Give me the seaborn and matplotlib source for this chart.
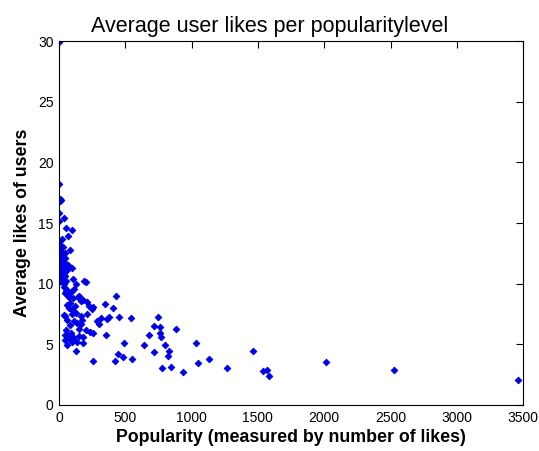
import matplotlib
matplotlib.use("Agg")
import matplotlib.pyplot as plt
import seaborn as sns
import pandas as pd

# Popularity (number of likes) and the average likes of the users at that level
popularity = [
    0, 3, 4, 12, 8, 2, 40, 1, 52, 98, 65, 25, 10, 5, 30, 85, 45,
    2, 8, 15, 20, 4, 28, 12, 35, 6, 18, 42, 25, 3, 50, 10, 32, 60, 14, 22, 5,
    38, 48, 9, 28, 16, 55, 3, 35, 20, 44, 7, 30, 70, 95,
    103, 126, 189, 204, 58, 45, 78, 103, 153, 163, 184, 83, 58, 121, 209, 229,
    246, 259, 347, 405, 430, 45, 96, 166, 83, 133, 163, 284, 314, 365, 380,
    455, 540, 304, 355, 234, 259, 184, 153, 138, 178, 70, 103, 63, 121, 128,
    254, 422, 447, 480, 490, 548, 641, 681, 717, 749, 762, 762, 769, 719, 799,
    825, 832, 779, 842, 882, 933, 1033, 1051, 1134, 1270, 1461, 1536, 1567,
    1582, 2014, 2530, 3465,
    40, 55, 65, 90, 110, 140, 75, 95, 130, 60, 110, 48, 75, 88, 100, 150, 200,
    175, 210, 50, 35, 58, 45,
]
avg_likes = [
    29.9, 18.2, 17.0, 16.9, 16.8, 15.8, 15.4, 15.2, 14.6, 14.4, 13.9, 13.7, 13.5, 13.2, 13.0, 12.8, 12.5,
    12.9, 12.7, 12.6, 12.4, 12.3, 12.2, 12.1, 12.0, 11.9, 11.8, 11.7, 11.6, 11.5, 11.4, 11.3, 11.2, 11.1, 11.0, 10.9, 10.8,
    10.7, 10.6, 10.5, 10.4, 10.3, 10.2, 10.1, 10.0, 11.7, 12.1, 12.5, 10.8, 11.5, 11.3,
    10.4, 10.0, 10.25, 10.1, 9.5, 9.2, 8.9, 8.8, 9.0, 8.6, 8.65, 8.4, 8.25, 8.15, 8.5, 8.15,
    7.9, 8.05, 8.3, 7.97, 8.98, 7.33, 7.5, 7.33, 6.6, 6.8, 6.7, 6.95, 7.2, 7.06, 7.28,
    7.28, 7.14, 6.68, 5.77, 6.04, 5.96, 5.58, 5.69, 5.22, 5.14, 5.63, 5.63, 4.95, 5.36, 4.48,
    3.6, 3.6, 4.2, 3.98, 5.08, 3.76, 4.92, 5.8, 6.5, 7.28, 6.46, 5.96, 5.63, 4.37, 4.92,
    4.04, 4.48, 3.08, 3.16, 6.24, 2.72, 5.08, 3.43, 3.76, 3.08, 4.48, 2.83, 2.88,
    2.36, 3.52, 2.91, 2.03,
    9.7, 9.4, 9.0, 9.3, 9.6, 8.9, 8.0, 7.8, 7.6, 7.0, 6.9, 5.8, 5.4, 5.9, 5.2, 6.3, 6.2,
    7.0, 7.5, 6.2, 7.4, 5.77, 5.36,
]

x_ticks = [0, 500, 1000, 1500, 2000, 2500, 3000, 3500]
y_ticks = [0, 5, 10, 15, 20, 25, 30]

df = pd.DataFrame({"popularity": popularity, "avg_likes": avg_likes})

sns.set_style("white")
plt.rcParams["font.family"] = ["Liberation Sans", "DejaVu Sans"]
plt.rcParams["text.color"] = "black"
plt.rcParams["axes.labelcolor"] = "black"

fig = plt.figure(figsize=(5.39, 4.51), dpi=100)
ax = fig.add_axes([0.1095, 0.102, 0.861, 0.807])

sns.scatterplot(data=df, x="popularity", y="avg_likes", ax=ax,
                marker="D", s=11, color="#0000e6", edgecolor="#0000e6",
                linewidth=0.7, legend=False)

ax.set_xlim(0, 3500)
ax.set_ylim(0, 30)
ax.set_xticks(x_ticks)
ax.set_yticks(y_ticks)
ax.tick_params(direction="in", length=5, width=0.8, top=True, right=True,
               labelsize=10, colors="black", pad=4)
for side in ax.spines.values():
    side.set_visible(True)
    side.set_color("black")
    side.set_linewidth(0.8)

fig.text(0.5, 0.965, "Average user likes per popularitylevel", fontsize=15.5,
         ha="center", va="top", color="black")
ax.set_xlabel("Popularity (measured by number of likes)", fontsize=12.8,
              fontweight="bold", labelpad=3, color="black")
ax.set_ylabel("Average likes of users", fontsize=12.8, fontweight="bold",
              labelpad=5, color="black")

fig.savefig("out.png", dpi=100, facecolor="white")
